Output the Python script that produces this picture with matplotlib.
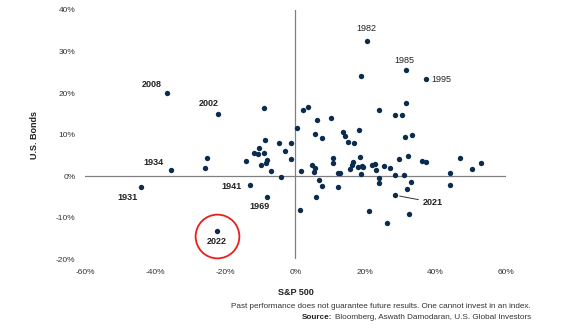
import matplotlib.pyplot as plt
import numpy as np

# S&P 500 vs U.S. Bonds annual total returns (%)
# labelled years
label_years = ['2008', '2002', '1934', '1931', '1941', '1969', '2022',
               '1982', '1985', '1995', '2021']
label_sp = [-36.6, -22.0, -35.5, -44.0, -12.8, -8.2, -22.3,
            20.6, 31.5, 37.4, 28.6]
label_bonds = [20.0, 15.0, 1.4, -2.6, -2.2, -5.0, -13.2,
               32.6, 25.6, 23.3, -4.6]

# all other years
sp500 = [-8.9, -8.5, -4.6, -1.1, -3.0, -10.4, -11.9, -10.7, -8.8, -8.1,
         -1.1, -14.2, -9.9, -8.4, -25.1, -25.9, -6.9, -4.2,
         0.4, 2.1, 3.7, 6.3, 10.2, 24.0, 18.7, 31.7, 28.5, 30.5,
         18.2, 5.6, 7.7, 13.7, 14.3, 15.1, 16.7, 31.4, 33.3, 10.9,
         10.9, 18.5, 29.5, 32.1, 36.1, 37.3, 47.0, 50.3, 52.9, 1.5,
         4.9, 5.7, 5.3, 6.7, 7.7, 6.0, 1.4, 12.1, 12.7, 12.2,
         15.7, 16.2, 16.6, 17.8, 19.0, 19.3, 18.8, 21.1, 21.9, 22.7,
         23.0, 23.9, 24.0, 26.2, 25.3, 26.9, 28.6, 31.1, 32.9, 32.0,
         32.4, 44.1, 44.1]
bonds = [16.5, 8.7, 8.0, 7.9, 6.1, 6.7, 5.5, 5.3, 5.6, 4.0,
         4.2, 3.6, 2.8, 3.1, 4.4, 1.9, 1.2, -0.2,
         11.5, 15.9, 16.7, 13.6, 14.1, 15.9, 24.1, 17.5, 14.8, 14.8,
         11.2, 10.1, 9.3, 10.6, 9.6, 8.3, 8.1, 9.5, 9.9, 4.4,
         3.2, 4.6, 4.1, 4.9, 3.7, 3.5, 4.3, 1.8, 3.2, 1.2,
         2.8, 1.9, 0.9, -0.8, -2.3, -5.0, -8.1, 0.7, 0.7, -2.7,
         1.8, 2.6, 3.4, 2.2, 2.5, 2.1, 0.6, -8.3, 2.6, 3.0,
         1.4, -0.4, -1.7, -11.2, 2.5, 2.0, 0.2, 0.2, -1.4, -3.1,
         -9.2, 0.7, -2.2]

x_ticks = [-60, -40, -20, 0, 20, 40, 60]
y_ticks = [-20, -10, 0, 10, 20, 30, 40]

# label offsets in pixels from the dot
offsets = {'2008': (-15, 9), '2002': (-9, 10), '1934': (-17, 8),
           '1931': (-14, -11), '1941': (-19, -1), '1969': (-7, -10),
           '2022': (0, -10), '1982': (-1, 12.5), '1985': (-1.5, 9.7)}
bold_labels = ['2008', '2002', '1934', '1931', '1941', '1969', '2022', '2021']

navy = '#0b2c4d'
txt = '#222222'
plt.rcParams['font.family'] = ['Liberation Sans', 'DejaVu Sans']

fig = plt.figure(figsize=(5.8, 3.34), dpi=100)
ax = fig.add_axes([0.1466, 0.2237, 0.725, 0.7464])

ax.axhline(0, color='#808080', lw=0.9, zorder=1)
ax.axvline(0, color='#808080', lw=0.9, zorder=1)

ax.scatter(sp500, bonds, s=15, color=navy, zorder=3, linewidths=0)
ax.scatter(label_sp, label_bonds, s=15, color=navy, zorder=3, linewidths=0)

for yr, xv, yv in zip(label_years, label_sp, label_bonds):
    w = 'semibold' if yr in bold_labels else 'normal'
    if yr == '1995':
        ax.annotate(yr, (xv, yv), xytext=(5, 0), textcoords='offset pixels',
                    ha='left', va='center', fontsize=6.5, color=txt, fontweight=w)
    elif yr == '2021':
        ax.annotate(yr, (xv, yv), xytext=(27, -7), textcoords='offset pixels',
                    ha='left', va='center', fontsize=6.5, color=txt, fontweight=w,
                    arrowprops=dict(arrowstyle='-', color='#333333', lw=0.7,
                                    shrinkA=1, shrinkB=3))
    else:
        dx, dy = offsets[yr]
        ax.annotate(yr, (xv, yv), xytext=(dx, dy), textcoords='offset pixels',
                    ha='center', va='center', fontsize=6.5, color=txt, fontweight=w)

# highlight ring around 2022
i22 = label_years.index('2022')
ax.plot(label_sp[i22], label_bonds[i22] - 1.2, marker='o', ms=31.5,
        mfc='none', mec='#e8201c', mew=1.3, zorder=4)

ax.set_xlim(-60, 60)
ax.set_ylim(-20, 40)
ax.set_xticks(x_ticks)
ax.set_yticks(y_ticks)
ax.set_xticklabels([f'{v}%' for v in x_ticks])
ax.set_yticklabels([f'{v}%' for v in y_ticks])
ax.tick_params(length=0, labelsize=6, labelcolor='#333333', pad=7)
for sp in ax.spines.values():
    sp.set_visible(False)

ax.set_ylabel('U.S. Bonds', fontsize=6.5, color=txt, fontweight='bold', labelpad=12)
fig.text(0.51, 0.125, 'S&P 500', fontsize=6.5, color=txt, fontweight='bold',
         ha='center', va='center')

fig.text(0.915, 0.083, 'Past performance does not guarantee future results. '
         'One cannot invest in an index.', fontsize=5.9, color='#333333',
         ha='right', va='center')
src = fig.text(0.915, 0.049, 'Bloomberg, Aswath Damodaran, U.S. Global Investors',
               fontsize=5.9, color='#333333', ha='right', va='center')

# put the bold "Source:" just left of the source line
fig.canvas.draw()
bb = src.get_window_extent()
x_left = bb.x0 / fig.bbox.width - 0.004
fig.text(x_left, 0.049, 'Source:', fontsize=5.9, color=txt, fontweight='bold',
         ha='right', va='center')

fig.savefig('out.png', dpi=100, facecolor='white')
